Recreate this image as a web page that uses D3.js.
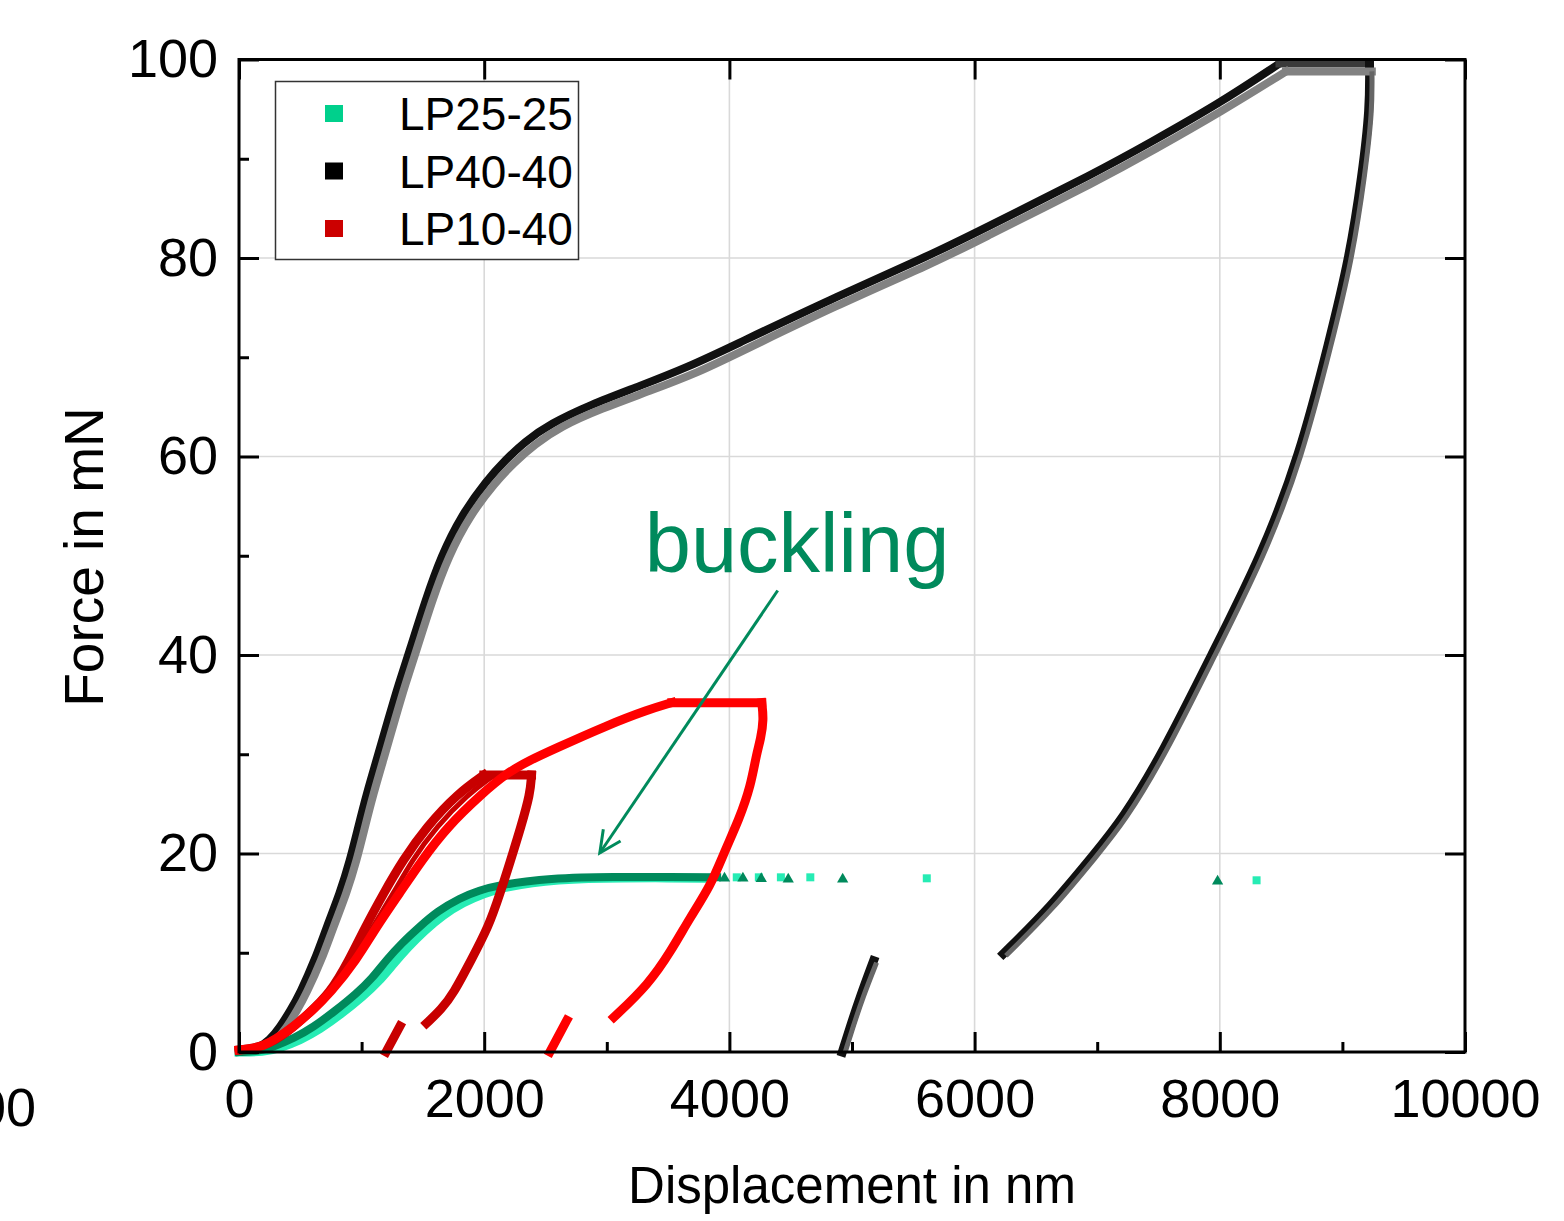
<!DOCTYPE html>
<html>
<head>
<meta charset="utf-8">
<script src="https://cdn.jsdelivr.net/npm/d3@7"></script>
<style>
  html, body { margin: 0; padding: 0; background: #fff; }
  svg { display: block; font-family: "Liberation Sans", Arial, sans-serif; }
</style>
</head>
<body>
<svg id="chart" width="1564" height="1221"></svg>
<script>
// ---------------- data (displacement nm, force mN) ----------------
const xTicksMajor = [0, 2000, 4000, 6000, 8000, 10000];
const xTicksMinor = [1000, 3000, 5000, 7000, 9000];
const yTicksMajor = [0, 20, 40, 60, 80, 100];
const yTicksMinor = [10, 30, 50, 70, 90];

const seriesNames = ["LP25-25", "LP40-40", "LP10-40"];
const legendColors = ["#00d08c", "#000000", "#cc0000"];

// LP40-40 (black squares)
const lp4040BlackLoad = [[0,0],[150,0.3],[250,1.2],[334,2.5],[420,4.2],[497,5.9],[620,9.3],[715,12.6],[823,16],[905,19.3],[973,22.7],[1041,26],[1122,29.4],[1222,33.7],[1300,37],[1391,40.4],[1520,45.5],[1650,50],[1810,54],[2020,57.6],[2170,59.6],[2330,61.5],[2540,63.3],[2862,65.2],[3269,67.1],[3677,69.1],[4003,71],[4818,75.8],[5675,80.5],[6000,82.5],[7020,88.8],[7427,91.6],[8000,95.6],[8487,99.6]];
const lp4040BlackHold = [[8487,99.6],[9221,99.6]];
const lp4040BlackUnload = [[9221,99.6],[9225,95.2],[9164,88.5],[9058,80],[8895,71.7],[8650,60],[8340,50],[7933,40],[7530,30],[7204,23.4],[6979,20],[6620,14.6],[6235,9.9]];
const lp4040BlackUnloadLow = [[4921,0],[4985,2.5],[5065,5.5],[5176,9.2]];
// LP40-40 (grey triangles)
const lp4040GreyLoad = [[0,0],[200,0.2],[300,1.1],[390,2.5],[475,4.2],[550,5.9],[675,9.3],[770,12.6],[878,16],[960,19.3],[1028,22.7],[1096,26],[1177,29.4],[1277,33.7],[1355,37],[1446,40.4],[1575,45.5],[1710,50],[1880,54],[2090,57.4],[2245,59.4],[2410,61.2],[2620,63],[2950,64.8],[3350,66.6],[3750,68.5],[4050,70.3],[4850,75.1],[5700,79.7],[6020,81.7],[7040,88],[7450,90.8],[8020,94.8],[8540,98.8]];
const lp4040GreyHold = [[8540,98.8],[9240,98.8]];
const lp4040GreyUnload = [[9240,98.8],[9245,95],[9184,88.3],[9078,79.8],[8915,71.5],[8670,59.8],[8360,49.8],[7953,39.8],[7550,29.8],[7224,23.2],[6999,19.8],[6640,14.4],[6255,9.7]];
const lp4040GreyUnloadLow = [[4945,0],[5008,2.5],[5088,5.5],[5200,9.0]];

// LP25-25 (dark green triangles / light green squares)
const lp2525DarkLoad = [[0,0],[150,0.05],[280,0.5],[450,1.4],[606,2.5],[780,4.1],[959,5.9],[1085,7.4],[1204,9.3],[1330,11.0],[1470,12.6],[1620,14.2],[1800,15.5],[1960,16.3],[2120,16.8],[2350,17.2],[2536,17.45],[2800,17.6],[3030,17.65],[3400,17.65],[3900,17.6]];
const lp2525LightLoad = [[0,0],[200,0],[330,0.4],[500,1.2],[660,2.3],[830,3.8],[1010,5.6],[1140,7.1],[1260,8.9],[1380,10.6],[1510,12.2],[1660,13.8],[1830,15.1],[2000,16.0],[2160,16.6],[2400,17.1],[2600,17.35],[2850,17.5],[3100,17.55],[3500,17.55],[3850,17.5]];
const lp2525DarkSparseX = [3960, 4110, 4260, 4480, 4924, 7982];
const lp2525DarkSparseY = [17.5, 17.5, 17.45, 17.4, 17.4, 17.2];
const lp2525LightSparseX = [4060, 4240, 4420, 4660, 5610, 8300];
const lp2525LightSparseY = [17.6, 17.6, 17.6, 17.6, 17.5, 17.3];

// LP10-40 (dark red squares, two loading traces)
const lp1040DarkLoadA = [[0,0.2],[200,0.5],[400,2.0],[560,3.8],[742,5.9],[900,9.3],[1030,12.6],[1180,16],[1335,19.3],[1530,22.7],[1780,26.0],[1997,27.9]];
const lp1040DarkLoadB = [[742,5.9],[945,9.5],[1090,12.6],[1260,16],[1410,19.3],[1610,22.7],[1870,26],[2060,27.7]];
const lp1040DarkHold = [[1997,27.9],[2386,27.9]];
const lp1040DarkUnload = [[2386,27.9],[2375,26],[2300,22.7],[2215,19.3],[2130,16],[2035,12.6],[1895,9.3],[1750,5.9],[1650,4.3],[1530,2.9]];
const lp1040DarkUnloadLow = [[1313,2.6],[1200,0]];
// LP10-40 (bright red triangles)
const lp1040RedLoad = [[0,0.2],[100,0.3],[196,0.6],[300,1.3],[440,2.5],[600,4.2],[742,5.9],[960,9.3],[1120,12.6],[1310,16],[1490,19.3],[1700,22.7],[1980,26.0],[2183,28.1],[2373,29.4],[2566,30.5],[2999,32.9],[3339,34.5],[3530,35.2]];
const lp1040RedHold = [[3530,35.2],[4264,35.2]];
const lp1040RedUnload = [[4264,35.2],[4280,33.5],[4255,31.5],[4220,30.0],[4174,26.8],[4081,23.5],[3960,20.2],[3849,16.8],[3677,13.5],[3525,10.2],[3340,6.8],[3058,3.5]];
const lp1040RedUnloadLow = [[2674,3.2],[2536,0]];

// annotation
const annotationText = "buckling";
const annotationTextPos = [3310, 48.4];
const arrowFrom = [4394, 46.5];
const arrowTo = [2943, 20.05];

// ---------------- layout ----------------
const svg = d3.select("#chart");
const L = 239, R = 1465, T = 59.5, B = 1052;
const x = d3.scaleLinear().domain([0, 10000]).range([L, R]);
const y = d3.scaleLinear().domain([0, 100]).range([B, T]);

// gridlines
const grid = svg.append("g");
grid.selectAll("line.gx").data(xTicksMajor.slice(1, -1)).join("line")
  .attr("x1", d => x(d)).attr("x2", d => x(d)).attr("y1", T).attr("y2", B)
  .attr("stroke", "#d9d9d9").attr("stroke-width", 1.6);
grid.selectAll("line.gy").data(yTicksMajor.slice(1, -1)).join("line")
  .attr("y1", d => y(d)).attr("y2", d => y(d)).attr("x1", L).attr("x2", R)
  .attr("stroke", "#d9d9d9").attr("stroke-width", 1.6);

// ---------------- curves ----------------
const smooth = d3.line().x(d => x(d[0])).y(d => y(d[1])).curve(d3.curveBasis);
const straight = d3.line().x(d => x(d[0])).y(d => y(d[1]));
const plot = svg.append("g");
function drawPath(data, gen, color, w, cap) {
  plot.append("path").attr("d", gen(data)).attr("fill", "none")
    .attr("stroke", color).attr("stroke-width", w)
    .attr("stroke-linejoin", "miter").attr("stroke-linecap", cap || "square");
}
const cBlack = "#111111", cBlackTop = "#3a3a3a", cGrey = "#828282";
drawPath(lp4040BlackLoad, smooth, cBlack, 8);
drawPath(lp4040BlackHold, straight, cBlackTop, 8);
drawPath(lp4040BlackUnload, smooth, cBlack, 9);
drawPath(lp4040BlackUnloadLow, smooth, cBlack, 9);
drawPath(lp4040GreyLoad, smooth, cGrey, 8);
drawPath(lp4040GreyHold, straight, cGrey, 8);
drawPath(lp4040GreyUnload, smooth, "#666666", 5, "butt");
drawPath(lp4040GreyUnloadLow, smooth, "#666666", 5, "butt");

const cLight = "#26ecb4", cDark = "#008a5c";
drawPath(lp2525LightLoad, smooth, cLight, 9);
drawPath(lp2525DarkLoad, smooth, cDark, 8);
plot.selectAll("path.sq").data(lp2525LightSparseX).join("path")
  .attr("transform", (d, i) => `translate(${x(d)},${y(lp2525LightSparseY[i])})`)
  .attr("d", d3.symbol(d3.symbolSquare, 64)).attr("fill", cLight);
plot.selectAll("path.tri").data(lp2525DarkSparseX).join("path")
  .attr("transform", (d, i) => `translate(${x(d)},${y(lp2525DarkSparseY[i])})`)
  .attr("d", d3.symbol(d3.symbolTriangle, 55)).attr("fill", cDark);

const cDarkRed = "#c80000", cRed = "#ff0000";
drawPath(lp1040DarkLoadB, smooth, cDarkRed, 5);
drawPath(lp1040DarkLoadA, smooth, cDarkRed, 9);
drawPath(lp1040DarkHold, straight, cDarkRed, 9);
drawPath(lp1040DarkUnload, smooth, cDarkRed, 9);
drawPath(lp1040DarkUnloadLow, straight, cDarkRed, 9);
drawPath(lp1040RedLoad, smooth, cRed, 9);
drawPath(lp1040RedHold, straight, cRed, 9);
drawPath(lp1040RedUnload, smooth, cRed, 9);
drawPath(lp1040RedUnloadLow, straight, cRed, 9);

// ---------------- axes ----------------
const fontTick = 54;
function styleAxis(g) {
  g.select(".domain").remove();
  g.selectAll(".tick line").attr("stroke", "#000").attr("stroke-width", 3);
  g.selectAll("text").attr("fill", "#000").attr("font-size", fontTick)
    .attr("font-family", "Liberation Sans, Arial, sans-serif");
}
svg.append("g").attr("transform", `translate(0,${B})`)
  .call(d3.axisBottom(x).tickValues(xTicksMajor).tickSize(-20).tickPadding(27).tickFormat(d3.format("d")))
  .call(styleAxis);
svg.append("g").attr("transform", `translate(0,${B})`)
  .call(d3.axisBottom(x).tickValues(xTicksMinor).tickSize(-10).tickFormat(""))
  .call(styleAxis);
svg.append("g").attr("transform", `translate(${L},0)`)
  .call(d3.axisLeft(y).tickValues(yTicksMajor).tickSize(-20).tickPadding(21).tickFormat(d3.format("d")))
  .call(styleAxis);
svg.append("g").attr("transform", `translate(${L},0)`)
  .call(d3.axisLeft(y).tickValues(yTicksMinor).tickSize(-10).tickFormat(""))
  .call(styleAxis);
svg.append("g").attr("transform", `translate(0,${T})`)
  .call(d3.axisTop(x).tickValues(xTicksMajor).tickSize(-20).tickFormat(""))
  .call(styleAxis);
svg.append("g").attr("transform", `translate(${R},0)`)
  .call(d3.axisRight(y).tickValues(yTicksMajor).tickSize(-20).tickFormat(""))
  .call(styleAxis);

// frame
svg.append("rect").attr("x", L).attr("y", T).attr("width", R - L).attr("height", B - T)
  .attr("fill", "none").attr("stroke", "#000").attr("stroke-width", 3);

// axis titles
svg.append("text").attr("x", 852).attr("y", 1203).attr("text-anchor", "middle")
  .attr("font-size", 51).attr("fill", "#000").text("Displacement in nm");
svg.append("text").attr("transform", "translate(103,557) rotate(-90)").attr("text-anchor", "middle")
  .attr("font-size", 55).attr("fill", "#000").text("Force in mN");
// cut-off label at left edge (as in the reference)
svg.append("text").attr("x", 36).attr("y", 1126).attr("text-anchor", "end")
  .attr("font-size", fontTick).attr("fill", "#000").text("00");

// ---------------- legend ----------------
const lg = svg.append("g");
lg.append("rect").attr("x", 275.5).attr("y", 81.5).attr("width", 303).attr("height", 178)
  .attr("fill", "#fff").attr("stroke", "#333").attr("stroke-width", 1.5);
seriesNames.forEach((name, i) => {
  const cy = 113.5 + i * 57.5;
  lg.append("rect").attr("x", 325).attr("y", cy - 8.5).attr("width", 18).attr("height", 17)
    .attr("fill", legendColors[i]);
  lg.append("text").attr("x", 399).attr("y", cy + 16.5).attr("font-size", 46)
    .attr("fill", "#000").text(name);
});

// ---------------- annotation ----------------
const cAnn = "#008a5c";
const ax1 = x(arrowFrom[0]), ay1 = y(arrowFrom[1]), ax2 = x(arrowTo[0]), ay2 = y(arrowTo[1]);
svg.append("line").attr("x1", ax1).attr("y1", ay1).attr("x2", ax2).attr("y2", ay2)
  .attr("stroke", cAnn).attr("stroke-width", 3);
const ang = Math.atan2(ay1 - ay2, ax1 - ax2);
const headLen = 24, spread = Math.PI / 7;
const headPts = [
  [ax2 + headLen * Math.cos(ang + spread), ay2 + headLen * Math.sin(ang + spread)],
  [ax2, ay2],
  [ax2 + headLen * Math.cos(ang - spread), ay2 + headLen * Math.sin(ang - spread)]
];
svg.append("path").attr("d", d3.line()(headPts)).attr("fill", "none")
  .attr("stroke", cAnn).attr("stroke-width", 3).attr("stroke-linejoin", "miter");
svg.append("text").attr("x", x(annotationTextPos[0])).attr("y", y(annotationTextPos[1]))
  .attr("font-size", 83).attr("fill", cAnn).text(annotationText);
</script>
</body>
</html>
